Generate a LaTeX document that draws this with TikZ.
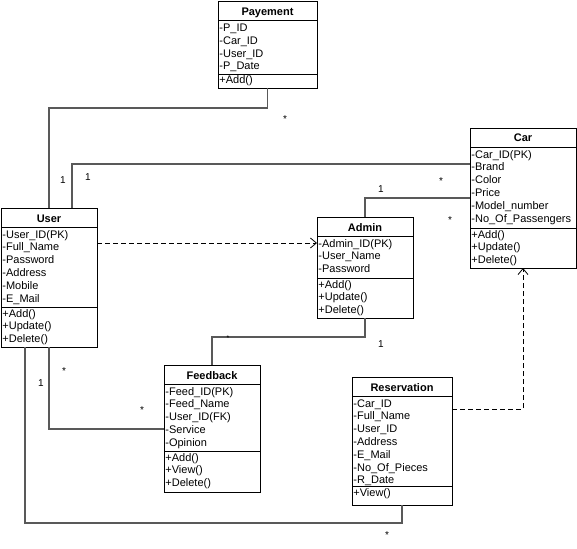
\documentclass[tikz,border=0pt]{standalone}
\usepackage{fontspec}
\setmainfont{Liberation Sans}
\usetikzlibrary{arrows.meta}
\newcommand\umlclass[9]{%
  \node[clsbox, minimum width={(#3-#2)*1pt}, minimum height={(#6-#4)*1pt}, anchor=north west] (#1) at (#2,#4) {};
  \draw[clsline] (#2,#4+19) -- (#3,#4+19);
  \draw[clsline] (#2,#5) -- (#3,#5);
  \node[clstitle, anchor=base] (#1-t) at ({(#2+#3)/2},#4+14) {#7};
  \foreach \txt [count=\k] in {#8} \node[clstext, anchor=base west] (#1-a\k) at (#2+1.2,{#4+19+11+(\k-1)*12.8}) {\txt};
  \foreach \txt [count=\k] in {#9} \node[clstext, anchor=base west] (#1-m\k) at (#2+1.2,{#5+10+(\k-1)*12.8}) {\txt};
}
\begin{document}
\begin{tikzpicture}[x=1pt,y=-1pt,
  clsbox/.style={draw=black,line width=0.8pt,inner sep=0pt,outer sep=0pt},
  clsline/.style={draw=black,line width=0.8pt},
  clstitle/.style={font=\fontsize{11}{12}\selectfont\bfseries,inner sep=0pt},
  clstext/.style={font=\fontsize{11}{12}\selectfont,inner sep=0pt},
  conn/.style={draw=black!65,line width=1.2pt},
  dep/.style={draw=black,line width=0.8pt,dash pattern=on 5pt off 3pt,-{Straight Barb[length=6pt,width=10pt]}},
  mult/.style={font=\fontsize{10}{12}\selectfont,inner sep=0pt}]
\useasboundingbox (0,0) rectangle (577,548);

\umlclass{pay}{218}{317}{1.5}{74}{88}{Payement}{-P\_ID,-Car\_ID,-User\_ID,-P\_Date}{+Add()}
\umlclass{car}{470}{576}{128}{228}{268}{Car}{-Car\_ID(PK),-Brand,-Color,-Price,-Model\_number,-No\_Of\_Passengers}{+Add(),+Update(),+Delete()}
\umlclass{user}{1}{97}{208}{307}{347}{User}{-User\_ID(PK),-Full\_Name,-Password,-Address,-Mobile,-E\_Mail}{+Add(),+Update(),+Delete()}
\umlclass{admin}{317}{413}{217}{278}{318}{Admin}{-Admin\_ID(PK),-User\_Name,-Password}{+Add(),+Update(),+Delete()}
\umlclass{feedback}{164}{260}{365}{451}{492}{Feedback}{-Feed\_ID(PK),-Feed\_Name,-User\_ID(FK),-Service,-Opinion}{+Add(),+View(),+Delete()}
\umlclass{res}{352}{452}{377}{486}{505}{Reservation}{-Car\_ID,-Full\_Name,-User\_ID,-Address,-E\_Mail,-No\_Of\_Pieces,-R\_Date}{+View()}

% connectors
\draw[conn] (pay.south) -- ++(0,20) -| ([xshift=48pt]user.north west);
\draw[conn] ([xshift=71pt]user.north west) |- ([yshift=-36pt]car.north west);
\draw[conn] (admin.north) |- ([yshift=-70pt]car.north west);
\draw[dep] ([yshift=-35pt]user.north east) -- ([yshift=-26pt]admin.north west);
\draw[conn] (admin.south) -- ++(0,19) -| ([xshift=48pt]feedback.north west);
\draw[conn] ([xshift=48pt]user.south west) |- ([yshift=-64pt]feedback.north west);
\draw[conn] ([xshift=24pt]user.south west) -- ++(0,176) -| (res.south);
\draw[dep] ([yshift=-32pt]res.north east) -| ([xshift=53pt]car.south west);

% multiplicities
\node[mult] (m1) at (285,119) {*};
\node[mult] (m2) at (63,180) {1};
\node[mult] (m3) at (88,177) {1};
\node[mult] (m4) at (441,181) {*};
\node[mult] (m5) at (381,189) {1};
\node[mult] (m6) at (450,220) {*};
\node[mult] (m7) at (381,344) {1};
\node[mult, font=\fontsize{7}{8}\selectfont] (m8) at (228,338) {*};
\node[mult] (m9) at (64,371) {*};
\node[mult] (m10) at (41,383) {1};
\node[mult] (m11) at (142,410) {*};
\node[mult] (m12) at (387,535) {*};
\end{tikzpicture}
\end{document}
